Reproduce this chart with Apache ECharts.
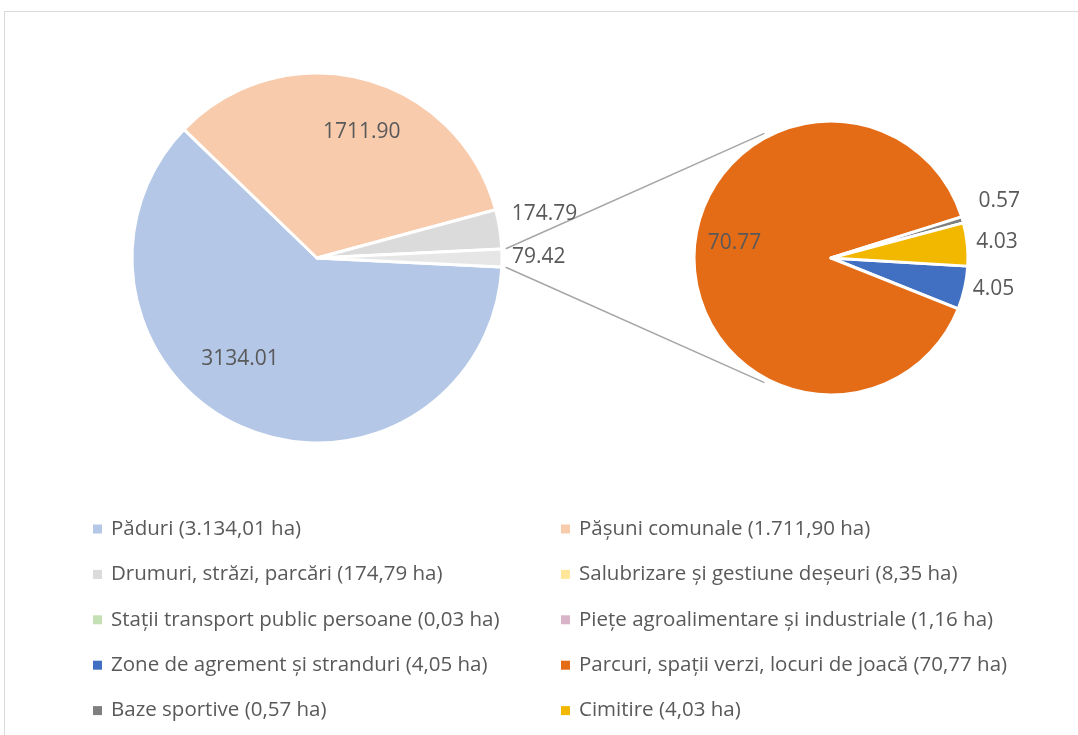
<!DOCTYPE html>
<html>
<head>
<meta charset="utf-8">
<script src="https://cdn.jsdelivr.net/npm/echarts@6/dist/echarts.min.js"></script>
<style>
  html, body { margin: 0; padding: 0; background: #fff; }
  #chart { width: 1078px; height: 735px; }
</style>
</head>
<body>
<div id="chart"></div>
<script>
// main pie: first three categories plus the "other" slice that is split out
var mainNames = ['Păduri (3.134,01 ha)', 'Pășuni comunale (1.711,90 ha)', 'Drumuri, străzi, parcări (174,79 ha)', 'Altele'];
var mainValues = [3134.01, 1711.90, 174.79, 79.42];

// second pie (order as Excel draws it)
var subNames = ['Zone de agrement și stranduri (4,05 ha)', 'Parcuri, spații verzi, locuri de joacă (70,77 ha)', 'Baze sportive (0,57 ha)', 'Cimitire (4,03 ha)'];
var subValues = [4.05, 70.77, 0.57, 4.03];

// categories that only appear in the legend (no value in the chart)
var emptyNames = ['Salubrizare și gestiune deșeuri (8,35 ha)', 'Stații transport public persoane (0,03 ha)', 'Piețe agroalimentare și industriale (1,16 ha)'];

var leftLegend = [mainNames[0], mainNames[2], emptyNames[1], subNames[0], subNames[2]];
var rightLegend = [mainNames[1], emptyNames[0], emptyNames[2], subNames[1], subNames[3]];

var mainColors = ['#b4c7e7', '#f8cbad', '#dbdbdb', '#e7e6e6'];
var subColors = ['#4170c2', '#e46c17', '#7f7f7f', '#f2b800'];
var emptyColors = ['#ffe699', '#c5e0b4', '#d9b4c8'];

// layout
var C1 = [317, 258], R1 = 185;
var C2 = [831, 258], R2 = 137;
var mainPos = ['inside', 'inside', 'outside', 'outside'];
var subPos = ['outside', 'inside', 'outside', 'outside'];
var mainOffsets = [[-39, 13], [21, -34], [7, -15], [5, -1]];
var subOffsets = [[3, 1], [-25, -12], [11, -19], [4, -2]];

var textColor = '#595959';
var font = '"Open Sans", "Noto Sans", sans-serif';

var mainTotal = mainValues.reduce(function (a, b) { return a + b; }, 0);
var otherHalf = mainValues[3] / mainTotal * 180;

function connector(sign) {
  var a = otherHalf * Math.PI / 180;
  var ps = [C1[0] + (R1 + 4) * Math.cos(a), C1[1] + sign * (R1 + 4) * Math.sin(a)];
  var rr = R2 + 4;
  var dx = ps[0] - C2[0], dy = ps[1] - C2[1];
  var d = Math.sqrt(dx * dx + dy * dy);
  var t = Math.atan2(dy, dx) - sign * Math.acos(rr / d);
  var pe = [C2[0] + rr * Math.cos(t), C2[1] + rr * Math.sin(t)];
  var lx = pe[0] - ps[0], ly = pe[1] - ps[1], ll = Math.sqrt(lx * lx + ly * ly);
  pe = [pe[0] - lx / ll * 10, pe[1] - ly / ll * 10];
  return {
    type: 'line', silent: true,
    shape: { x1: ps[0], y1: ps[1], x2: pe[0], y2: pe[1] },
    style: { stroke: '#a6a6a6', lineWidth: 1.5 }
  };
}

var labelBase = { color: textColor, fontFamily: font, fontSize: 21, formatter: function (p) { return p.value.toFixed(2); } };

var mainData = mainValues.map(function (v, i) {
  return { name: mainNames[i], value: v, itemStyle: { color: mainColors[i] }, label: { position: mainPos[i] } };
});
var subData = subValues.map(function (v, i) {
  return { name: subNames[i], value: v, itemStyle: { color: subColors[i] }, label: { position: subPos[i] } };
});
emptyNames.forEach(function (n, i) {
  subData.push({ name: n, value: '-', itemStyle: { color: emptyColors[i] }, label: { show: false } });
});

function legendCfg(left, names) {
  return {
    orient: 'vertical', left: left, top: 513,
    itemWidth: 9, itemHeight: 9, itemGap: 23.4, icon: 'rect',
    selectedMode: false,
    itemStyle: { borderWidth: 0 },
    textStyle: { color: textColor, fontFamily: font, fontSize: 20.5, lineHeight: 22, padding: [0, 0, 0, 4] },
    data: names
  };
}

var chart = echarts.init(document.getElementById('chart'));
chart.setOption({
  animation: false,
  backgroundColor: '#fff',
  legend: [legendCfg(88, leftLegend), legendCfg(556, rightLegend)],
  graphic: [
    { type: 'rect', silent: true, shape: { x: 4.5, y: 11.5, width: 1200, height: 900 }, style: { fill: 'none', stroke: '#d9d9d9', lineWidth: 1 } },
    connector(-1),
    connector(1)
  ],
  series: [
    {
      type: 'pie', center: C1, radius: R1,
      startAngle: -otherHalf, clockwise: true,
      avoidLabelOverlap: false, silent: true,
      itemStyle: { borderColor: '#fff', borderWidth: 3 },
      emphasis: { disabled: true },
      label: labelBase,
      labelLine: { show: false, length: 0, length2: 0 },
      labelLayout: function (p) { var o = mainOffsets[p.dataIndex]; return o ? { dx: o[0], dy: o[1] } : {}; },
      data: mainData
    },
    {
      type: 'pie', center: C2, radius: R2,
      startAngle: -3.4, clockwise: true,
      avoidLabelOverlap: false, silent: true,
      itemStyle: { borderColor: '#fff', borderWidth: 3 },
      emphasis: { disabled: true },
      label: labelBase,
      labelLine: { show: false, length: 0, length2: 0 },
      labelLayout: function (p) { var o = subOffsets[p.dataIndex]; return o ? { dx: o[0], dy: o[1] } : {}; },
      data: subData
    }
  ]
});
</script>
</body>
</html>
